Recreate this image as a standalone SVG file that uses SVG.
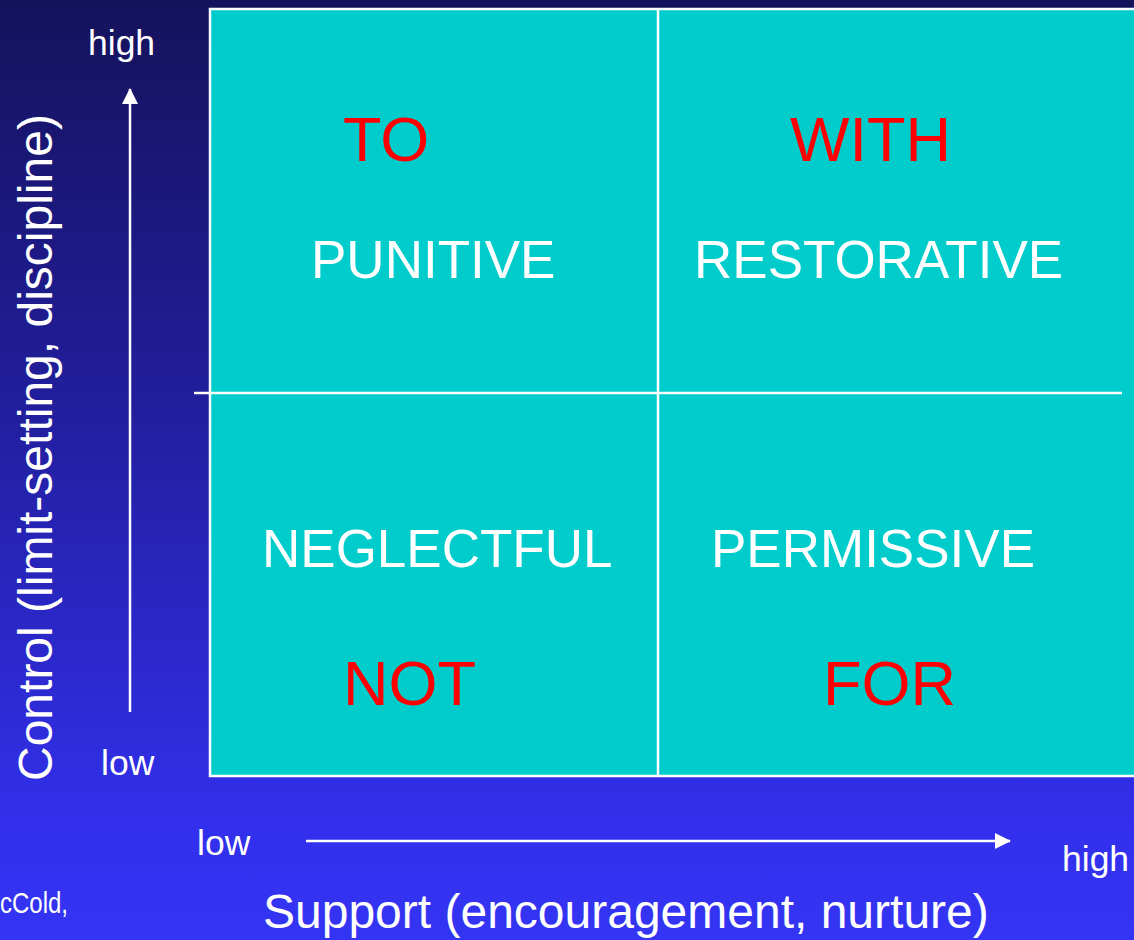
<svg xmlns="http://www.w3.org/2000/svg" width="1134" height="940" viewBox="0 0 1134 940">
  <defs>
    <linearGradient id="bg" x1="0" y1="0" x2="0" y2="1">
      <stop offset="0" stop-color="#15125c"/>
      <stop offset="0.45" stop-color="#221fa0"/>
      <stop offset="0.88" stop-color="#3230ec"/>
      <stop offset="1" stop-color="#3434f4"/>
    </linearGradient>
    <marker id="arrow" viewBox="0 0 16 16" refX="15" refY="8" markerWidth="16" markerHeight="16" markerUnits="userSpaceOnUse" orient="auto">
      <path d="M0,0 L16,8 L0,16 Z" fill="#ffffff"/>
    </marker>
    <style>
      text { font-family: "Liberation Sans", Arial, sans-serif; }
      .white { fill: #ffffff; }
      .quad { font-size: 53px; fill: #ffffff; }
      .prep { font-size: 63px; fill: #ff0000; }
      .axis { font-size: 48px; fill: #ffffff; }
      .tick { font-size: 35.5px; fill: #ffffff; }
      .grid { stroke: #ffffff; stroke-width: 2.5; fill: none; }
      .panel { fill: #00cccc; stroke: #ffffff; stroke-width: 2.5; }
      .axisline { stroke: #ffffff; stroke-width: 2.5; fill: none; }
    </style>
  </defs>

  <!-- background -->
  <rect x="0" y="0" width="1134" height="940" fill="url(#bg)"/>

  <!-- matrix panel -->
  <g id="matrix">
    <rect x="210" y="9" width="940" height="767" class="panel"/>
    <line x1="658" y1="9" x2="658" y2="776" class="grid"/>
    <line x1="194" y1="393" x2="1122" y2="393" class="grid"/>
  </g>

  <!-- quadrants -->
  <g id="q-punitive">
    <text x="343" y="161" class="prep">TO</text>
    <text x="311" y="278" class="quad">PUNITIVE</text>
  </g>
  <g id="q-restorative">
    <text x="790" y="161" class="prep">WITH</text>
    <text x="694" y="278" class="quad">RESTORATIVE</text>
  </g>
  <g id="q-neglectful">
    <text x="262" y="567" class="quad">NEGLECTFUL</text>
    <text x="343" y="705" class="prep">NOT</text>
  </g>
  <g id="q-permissive">
    <text x="711" y="567" class="quad">PERMISSIVE</text>
    <text x="823" y="705" class="prep">FOR</text>
  </g>

  <!-- axes -->
  <g id="connectors">
    <line x1="130" y1="712" x2="130" y2="89" class="axisline" marker-end="url(#arrow)"/>
    <line x1="306" y1="841" x2="1010" y2="841" class="axisline" marker-end="url(#arrow)"/>
  </g>

  <g id="y-axis-labels">
    <text x="88" y="55" class="tick">high</text>
    <text x="101" y="775" class="tick">low</text>
    <text class="axis" transform="translate(52,781) rotate(-90)">Control (limit-setting, discipline)</text>
  </g>

  <g id="x-axis-labels">
    <text x="197" y="855" class="tick">low</text>
    <text x="1062" y="871" class="tick">high</text>
    <text x="263" y="928" class="axis">Support (encouragement, nurture)</text>
  </g>

  <g id="credit">
    <text x="0" y="913" font-size="30" class="white" textLength="68" lengthAdjust="spacingAndGlyphs">cCold,</text>
  </g>
</svg>
